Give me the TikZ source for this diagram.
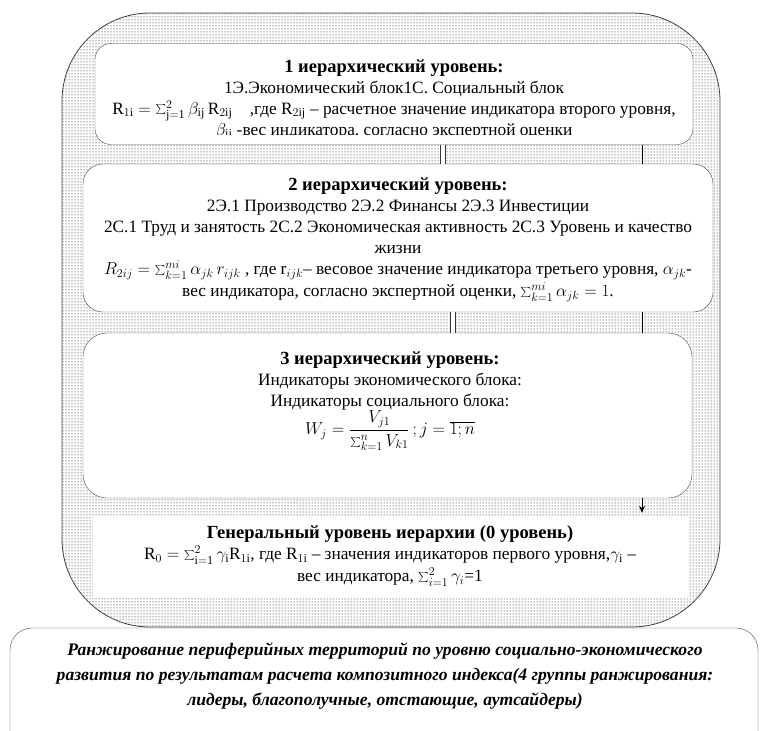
\documentclass[tikz,border=0pt]{standalone}
\usepackage{fontspec}
\setmainfont{Liberation Serif}
\usetikzlibrary{patterns,arrows.meta,calc}

\tikzset{
  level box/.style={draw=black!70, fill=white, rounded corners=#1, inner sep=0pt},
  level box/.default=16pt,
  level text/.style={align=center, inner sep=0pt, font=\fontsize{17.3}{21}\selectfont},
  hollow link/.style={draw=black!80, line width=0.8pt, double=white, double distance=4pt},
  side link/.style={draw=black, line width=0.8pt},
}
\newcommand{\lvltitle}[1]{{\fontsize{18.5}{21}\selectfont\bfseries #1}}

\begin{document}
\begin{tikzpicture}[x=1pt, y=-1pt]
	\useasboundingbox (0,0) rectangle (766,731);
	% outer dotted frame
	\draw[black!75, line width=0.8pt, pattern=dots, pattern color=black, rounded corners=88pt] (62,13) rectangle (720,627);
	% level boxes
	\node[level box, minimum width=598pt, minimum height=101pt] (b1) at (394,94) {};
	\node[level box=20pt, minimum width=630pt, minimum height=148pt] (b2) at (398,238) {};
	\node[level box=24pt, minimum width=609pt, minimum height=165pt] (b3) at (387.5,415.5) {};
	\node[level box=0pt, draw=none, minimum width=595pt, minimum height=81pt] (b0) at (390.5,557.5) {};
	\node[level box=22pt, minimum width=748pt, minimum height=132pt] (rank) at (384,694) {};
	% texts
	\begin{scope}
		\clip (96,45) rectangle (692,134);
		\node[level text] (t1) at (394,100) {\lvltitle{1 иерархический уровень:}\\
			1Э.Экономический блок1С. Социальный блок\\
			$\mathrm{R}_{1\mathrm{i}}=\sum_{\mathrm{j=1}}^{2}\beta_{\mathrm{ij}}\,\mathrm{R}_{2\mathrm{ij}}$\quad ,где R$_{2\mathrm{ij}}$ – расчетное значение индикатора второго уровня,\\
			$\beta_{\mathrm{ij}}$ -вес индикатора, согласно экспертной оценки};
	\end{scope}
	\node[level text] (t2) at (398,240) {\lvltitle{2 иерархический уровень:}\\
		2Э.1 Производство 2Э.2 Финансы 2Э.3 Инвестиции\\
		2С.1 Труд и занятость 2С.2 Экономическая активность\ 2С.3 Уровень и качество\\
		жизни\\
		$R_{2ij}=\sum_{k=1}^{mi}\alpha_{jk}\,r_{ijk}$ , где r$_{ijk}$– весовое значение индикатора третьего уровня, $\alpha_{jk}$-\\[1pt]
		вес индикатора, согласно экспертной оценки, $\sum_{k=1}^{mi}\alpha_{jk}=1$.};
	\node[level text] (t3) at (390,401) {\lvltitle{3 иерархический уровень:}\\
		Индикаторы экономического блока:\\
		Индикаторы социального блока:\\
		$\displaystyle W_j=\frac{V_{j1}}{\sum_{k=1}^{n}V_{k1}}\,;j=\overline{1;n}$};
	\node[level text] (t0) at (390,556) {\lvltitle{Генеральный уровень иерархии (0 уровень)}\\
		$\mathrm{R}_0=\sum_{\mathrm{i=1}}^{2}\gamma_{\mathrm{i}}\mathrm{R}_{1\mathrm{i}}$, где R$_{1\mathrm{i}}$ – значения индикаторов первого уровня,$\gamma_{\mathrm{i}}$ –\\[1pt]
		вес индикатора, $\sum_{i=1}^{2}\gamma_i$=1};
	\node[level text, font=\fontsize{17.6}{25}\selectfont\bfseries\itshape] (tr) at (385,676) {Ранжирование периферийных территорий по уровню социально-экономического\\
		развития по результатам расчета композитного индекса(4 группы ранжирования:\\
		лидеры, благополучные, отстающие, аутсайдеры)};
	% connectors
	\coordinate (rx) at (642,0);
	\coordinate (ax) at (443,0);
	\coordinate (bx) at (453,0);
	\draw[hollow link] (b1.south -| ax) -- (b2.north -| ax);
	\draw[side link] (b1.south -| rx) -- (b2.north -| rx);
	\draw[hollow link] (b2.south -| bx) -- (b3.north -| bx);
	\draw[side link] (b2.south -| rx) -- (b3.north -| rx);
	\draw[side link, -{Stealth[length=7pt,width=6pt]}] (b3.south -| rx) -- ([yshift=4pt]b0.north -| rx);
\end{tikzpicture}
\end{document}
